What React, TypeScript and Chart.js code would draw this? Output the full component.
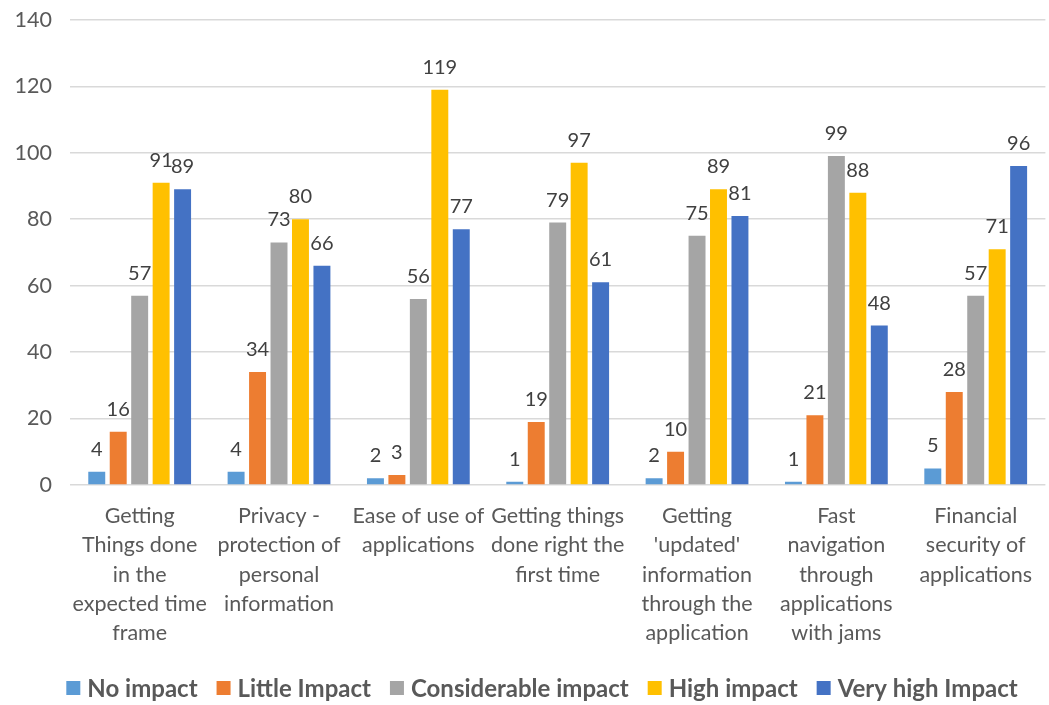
import React, { useEffect, useRef } from "react";
import { Chart, registerables } from "chart.js";

Chart.register(...registerables);

const categories: string[][] = [
  ["Getting", "Things done", "in the", "expected time", "frame"],
  ["Privacy -", "protection of", "personal", "information"],
  ["Ease of use of", "applications"],
  ["Getting things", "done right the", "first time"],
  ["Getting", "'updated'", "information", "through the", "application"],
  ["Fast", "navigation", "through", "applications", "with jams"],
  ["Financial", "security of", "applications"],
];

const noImpact = [4, 4, 2, 1, 2, 1, 5];
const littleImpact = [16, 34, 3, 19, 10, 21, 28];
const considerableImpact = [57, 73, 56, 79, 75, 99, 57];
const highImpact = [91, 80, 119, 97, 89, 88, 71];
const veryHighImpact = [89, 66, 77, 61, 81, 48, 96];

const seriesNames = ["No impact", "Little Impact", "Considerable impact", "High impact", "Very high Impact"];
const seriesColors = ["#5B9BD5", "#ED7D31", "#A5A5A5", "#FFC000", "#4472C4"];

const FONT = "Lato, 'Open Sans', sans-serif";

// The canvas sits slightly above the page top so the plot area starts high up
const SHIFT = 11;
const W = 1049;
const H = 705 + SHIFT;

// Value labels above every bar
const valueLabels = {
  id: "valueLabels",
  afterDatasetsDraw(chart: any) {
    const ctx = chart.ctx;
    ctx.save();
    ctx.font = `20px ${FONT}`;
    ctx.fillStyle = "#404040";
    ctx.textAlign = "center";
    ctx.textBaseline = "alphabetic";
    chart.data.datasets.forEach((ds: any, i: number) => {
      const meta = chart.getDatasetMeta(i);
      meta.data.forEach((bar: any, j: number) => {
        ctx.fillText(String(ds.data[j]), bar.x, bar.y - 16);
      });
    });
    ctx.restore();
  },
};

// Legend drawn along the bottom edge
const bottomLegend = {
  id: "bottomLegend",
  afterDraw(chart: any) {
    const ctx = chart.ctx;
    ctx.save();
    ctx.font = `bold 24px ${FONT}`;
    const box = 14;
    const gap = 7;
    const itemGap = 19;
    const widths = chart.data.datasets.map((ds: any) => box + gap + ctx.measureText(ds.label).width);
    const total = widths.reduce((a: number, b: number) => a + b, 0) + itemGap * (widths.length - 1);
    const cx = 542;
    const cy = 688 + SHIFT;
    let x = cx - total / 2;
    chart.data.datasets.forEach((ds: any, i: number) => {
      ctx.fillStyle = ds.backgroundColor;
      ctx.fillRect(x, cy - box / 2, box, box);
      ctx.fillStyle = "#595959";
      ctx.textAlign = "left";
      ctx.textBaseline = "middle";
      ctx.fillText(ds.label, x + box + gap, cy + 1);
      x += widths[i] + itemGap;
    });
    ctx.restore();
  },
};

export default function App() {
  const canvasRef = useRef<HTMLCanvasElement>(null);

  useEffect(() => {
    const values = [noImpact, littleImpact, considerableImpact, highImpact, veryHighImpact];
    const chart = new Chart(canvasRef.current!, {
      type: "bar",
      data: {
        labels: categories,
        datasets: values.map((data, i) => ({
          label: seriesNames[i],
          data,
          backgroundColor: seriesColors[i],
          categoryPercentage: 0.77,
          barPercentage: 0.79,
        })),
      },
      options: {
        animation: false,
        responsive: false,
        maintainAspectRatio: false,
        layout: { padding: { top: 11, left: 0, right: 0, bottom: 0 } },
        plugins: {
          legend: { display: false },
          tooltip: { enabled: false },
        },
        scales: {
          x: {
            grid: { display: false, drawTicks: false },
            border: { display: false },
            ticks: {
              color: "#595959",
              font: { family: FONT, size: 21.5, lineHeight: 1.35 },
              maxRotation: 0,
              autoSkip: false,
              padding: 17,
            },
            afterFit(scale: any) {
              scale.height = 220;
            },
          },
          y: {
            min: 0,
            max: 140,
            ticks: {
              stepSize: 20,
              color: "#595959",
              font: { family: FONT, size: 21.5 },
              padding: 18,
            },
            grid: { color: "#d9d9d9", lineWidth: 1.5, drawTicks: false },
            border: { display: false },
            afterFit(scale: any) {
              scale.width = 70;
            },
          },
        },
      },
      plugins: [valueLabels, bottomLegend],
    });
    return () => chart.destroy();
  }, []);

  return (
    <div style={{ position: "fixed", left: 0, top: 0, width: 1049, height: 705, overflow: "hidden", background: "#fff" }}>
      <canvas
        ref={canvasRef}
        width={W}
        height={H}
        style={{ display: "block", position: "absolute", left: 0, top: -SHIFT }}
      />
    </div>
  );
}
